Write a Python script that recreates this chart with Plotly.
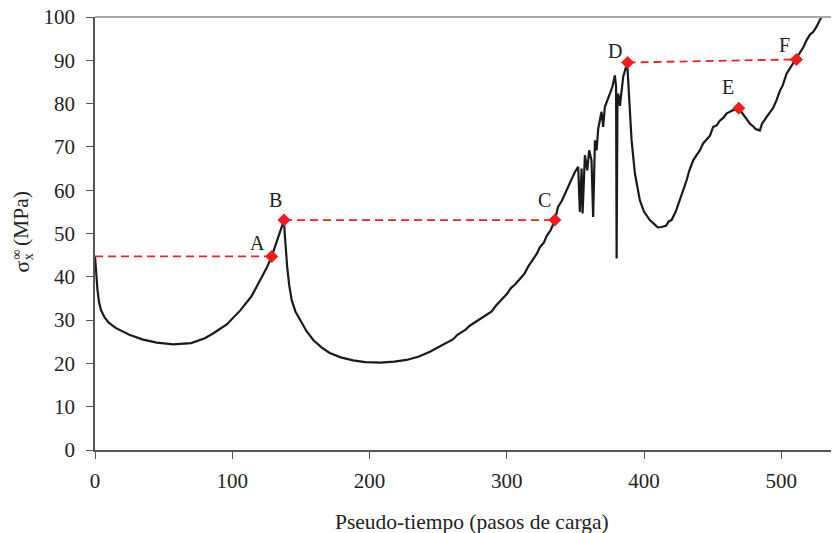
import plotly.graph_objects as go

# Curve (pseudo-time, sigma_x^inf in MPa)
curve_x = [0, 0.8, 1.8, 3, 4.5, 7, 10, 15, 20, 25, 35, 45, 57, 70, 80, 86, 96, 106, 114, 120, 125, 128.7, 133, 137.7,
           138.2, 139, 140, 141.5, 143.3, 146, 149.3, 154, 159, 165, 171, 179, 188, 197, 208, 218, 227, 236, 244,
           249, 253, 257, 261, 264, 266, 270, 273, 275.5, 280, 285, 289, 292, 296, 300, 303, 306, 309.5, 313, 316,
           319, 322, 324, 327, 329, 332, 335, 337.4, 340, 343.5, 347, 349.6, 352,
           353.2, 354.5, 355.2, 356.9, 358.6, 360, 361.7, 362.9, 364.2, 365.4, 366.6, 369, 370.2, 371.4, 373,
           375.1, 377, 378.7, 379.6, 380.0, 380.6, 381.2, 382.4, 384.8, 387.7,
           389.7, 390.9, 393.3, 396.9, 400, 404.2, 408, 410, 412.7, 416, 418, 420, 423, 426.1, 431, 433, 435.8,
           438, 440.6, 443, 445, 448, 450.3, 453, 455, 458, 460, 465, 469, 473, 477, 480, 481, 484.3, 486, 489.2,
           492, 494, 496.5, 499, 501, 503.8, 506, 508, 511, 514, 516, 518.3, 521, 523, 525.6, 528, 531.7]
curve_y = [44.7, 41.0, 37.0, 34.0, 32.2, 30.6, 29.4, 28.2, 27.4, 26.6, 25.5, 24.8, 24.4, 24.7, 25.8, 26.9, 29.0, 32.3,
           35.5, 39.2, 42.0, 44.7, 48.5, 53.1,
           50.0, 46.0, 42.3, 38.0, 34.6, 32.0, 30.0, 27.5, 25.4, 23.7, 22.4, 21.4, 20.7, 20.3, 20.2, 20.4, 20.8, 21.6,
           22.7, 23.5, 24.3, 24.9, 25.6, 26.6, 27.0, 27.8, 28.7, 29.2, 30.0, 31.2, 32.0, 33.3, 34.6, 36.0, 37.4,
           38.2, 39.5, 40.8, 42.6, 44.0, 45.4, 46.8, 47.9, 49.4, 50.8, 53.1, 56.2, 57.5, 60.0, 62.5, 64.2, 65.4,
           55.0, 65.0, 54.6, 68.1, 64.6, 69.2, 66.9, 53.8, 71.5, 69.2, 74.2, 78.1, 74.6, 79.2, 80.4,
           82.3, 84.0, 86.5, 84.0, 44.2, 80.0, 82.3, 79.5, 86.2, 89.4,
           79.2, 71.5, 63.9, 57.7, 55.0, 53.1, 52.0, 51.4, 51.5, 51.8, 52.8, 53.1, 55.0, 57.7, 62.3, 64.6, 66.9,
           68.0, 69.2, 70.8, 71.5, 72.6, 74.6, 75.0, 76.0, 76.8, 77.7, 78.5, 78.9, 77.0, 75.4, 74.6, 74.2, 73.8,
           75.4, 76.9, 78.2, 79.0, 80.8, 83.0, 84.2, 86.9, 88.0, 89.0, 90.2, 92.0, 93.0, 94.6, 96.0, 96.5, 97.7,
           99.3, 101.2]

# Labelled points
pt_labels = ["A", "B", "C", "D", "E", "F"]
pt_x = [128.7, 137.7, 335.0, 388.0, 469.0, 511.0]
pt_y = [44.7, 53.1, 53.1, 89.5, 78.9, 90.2]

# Dashed connector segments (start at x=0 for A)
seg_x = [0, 128.7, None, 137.7, 335.0, None, 388.0, 511.0]
seg_y = [44.7, 44.7, None, 53.1, 53.1, None, 89.5, 90.2]

x_ticks = [0, 100, 200, 300, 400, 500]
y_ticks = list(range(0, 101, 10))

label_shift = {"A": (-14, 13), "B": (-9, 20), "C": (-10, 20), "D": (-13, 11), "E": (-11, 21), "F": (-12, 14)}

serif = "Liberation Serif, Times New Roman, serif"
ink = "#222"

fig = go.Figure()
fig.add_trace(go.Scatter(x=curve_x, y=curve_y, mode="lines",
                         line=dict(color="#1a1a1a", width=2.2), showlegend=False, hoverinfo="skip"))
fig.add_trace(go.Scatter(x=seg_x, y=seg_y, mode="lines",
                         line=dict(color="#ee2222", width=1.8, dash="8px,5px"), showlegend=False))
fig.add_trace(go.Scatter(x=pt_x, y=pt_y, mode="markers",
                         marker=dict(symbol="diamond", size=10, color="#ee1c1c"), showlegend=False))

for lab, xx, yy in zip(pt_labels, pt_x, pt_y):
    dx, dy = label_shift[lab]
    fig.add_annotation(x=xx, y=yy, text=lab, showarrow=False, xshift=dx, yshift=dy,
                       font=dict(family=serif, size=20, color=ink))

# x-axis title
fig.add_annotation(xref="paper", yref="paper", x=0.507, y=-0.166, text="Pseudo-tiempo (pasos de carga)",
                   showarrow=False, xanchor="center", yanchor="middle",
                   font=dict(family=serif, size=21.5, color=ink))
# y-axis title: sigma with stacked subscript x and superscript infinity, then (MPa)
ytitle_parts = [("σ", -0.0985, 0.423, 21.5), ("x", -0.089, 0.447, 14), ("∞", -0.106, 0.452, 14),
                ("(MPa)", -0.0985, 0.535, 21.5)]
for txt, px, py, fs in ytitle_parts:
    fig.add_annotation(xref="paper", yref="paper", x=px, y=py, text=txt, showarrow=False,
                       xanchor="center", yanchor="middle", textangle=-90,
                       font=dict(family=serif, size=fs, color=ink))

# top border line of the plot area
fig.add_shape(type="line", xref="paper", yref="paper", x0=0, x1=1, y0=1, y1=1,
              line=dict(color="#a8a8a8", width=2))

# page body has an 8px margin, so the figure is sized/offset to compensate
fig.update_layout(
    width=831, height=525,
    margin=dict(l=87, r=0, t=9, b=83, autoexpand=False),
    paper_bgcolor="white", plot_bgcolor="white",
    font=dict(family=serif, color=ink),
    xaxis=dict(range=[0, 542], tickvals=x_ticks, showgrid=False, zeroline=False, automargin=False,
               showline=True, linecolor="#555", linewidth=1.5, ticks="outside", ticklen=7, tickcolor="#555",
               ticklabelstandoff=4, ticklabeloverflow="allow",
               tickfont=dict(family=serif, size=21, color=ink)),
    yaxis=dict(range=[0, 100], tickvals=y_ticks, showgrid=False, zeroline=False, automargin=False,
               showline=True, linecolor="#555", linewidth=1.5, ticks="outside", ticklen=7, tickcolor="#555",
               ticklabelstandoff=7, ticklabeloverflow="allow",
               tickfont=dict(family=serif, size=21, color=ink)),
)

fig.write_html("out.html")
